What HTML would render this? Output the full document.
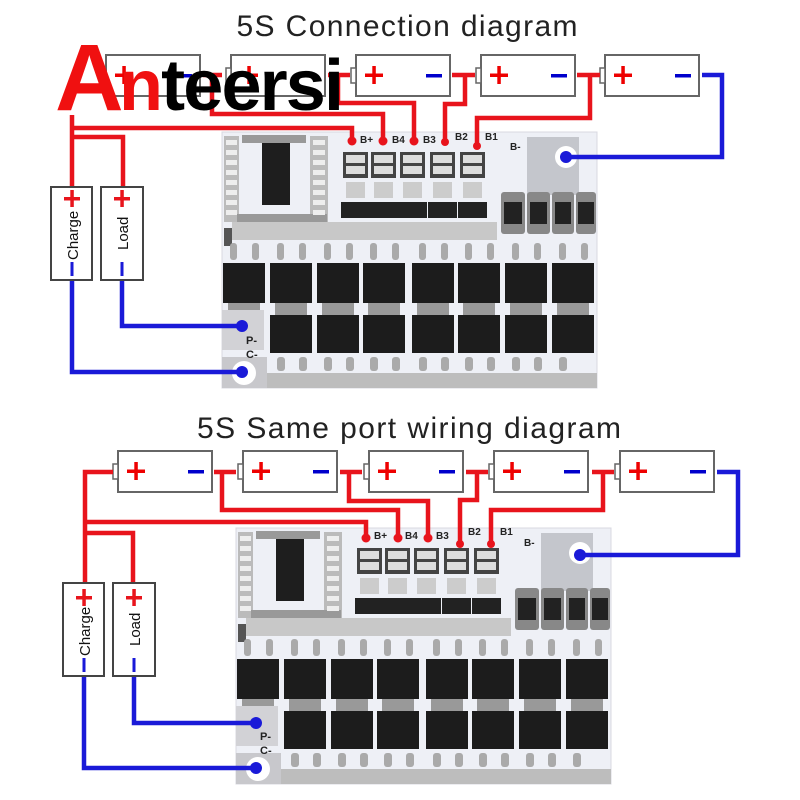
<!DOCTYPE html>
<html><head><meta charset="utf-8"><style>
html,body{margin:0;padding:0;background:#fff;width:800px;height:800px;overflow:hidden}
svg{display:block}
text{font-family:"Liberation Sans",sans-serif}
</style></head><body>
<svg width="800" height="800" viewBox="0 0 800 800" xmlns="http://www.w3.org/2000/svg">
<defs>
<g id="bat">
  <rect x="0" y="0" width="94" height="41" fill="#fff" stroke="#666" stroke-width="2"/>
  <rect x="-5" y="13" width="5" height="15" fill="#fff" stroke="#666" stroke-width="1.5"/>
  <rect x="9" y="18.5" width="18" height="3.5" fill="#e00"/>
  <rect x="16.3" y="11" width="3.5" height="18" fill="#e00"/>
  <rect x="70" y="19" width="16" height="3.5" fill="#00c"/>
</g>
<g id="board">
  <rect x="0" y="0" width="375" height="256" fill="#eef0f6"/>
  <rect x="0" y="0" width="375" height="256" fill="none" stroke="#d8d8e0" stroke-width="1"/>
  <!-- left comps -->
  <g fill="#777">
    <rect x="2" y="4" width="15" height="86" fill="#bbb"/>
    <rect x="88" y="4" width="18" height="86" fill="#bbb"/>
    <rect x="20" y="3" width="64" height="8" fill="#999"/>
    <rect x="15" y="82" width="90" height="9" fill="#999"/>
    <rect x="2" y="96" width="8" height="18" fill="#555"/>
  </g>
  <g fill="#eee">
    <rect x="4" y="8" width="11" height="5"/><rect x="4" y="18" width="11" height="5"/><rect x="4" y="28" width="11" height="5"/><rect x="4" y="38" width="11" height="5"/><rect x="4" y="48" width="11" height="5"/><rect x="4" y="58" width="11" height="5"/><rect x="4" y="68" width="11" height="5"/><rect x="4" y="78" width="11" height="5"/>
    <rect x="91" y="8" width="12" height="5"/><rect x="91" y="18" width="12" height="5"/><rect x="91" y="28" width="12" height="5"/><rect x="91" y="38" width="12" height="5"/><rect x="91" y="48" width="12" height="5"/><rect x="91" y="58" width="12" height="5"/><rect x="91" y="68" width="12" height="5"/><rect x="91" y="78" width="12" height="5"/>
  </g>
  <rect x="40" y="11" width="28" height="62" fill="#1e1e1e"/>
  <!-- balance channels -->
  <g>
    <rect x="121" y="20" width="25" height="26" fill="#444"/><rect x="124" y="23" width="19" height="8" fill="#ddd"/><rect x="124" y="34" width="19" height="8" fill="#ddd"/><rect x="119" y="70" width="29" height="16" fill="#222"/><rect x="124" y="50" width="19" height="16" fill="#ccc"/>
    <rect x="149" y="20" width="25" height="26" fill="#444"/><rect x="152" y="23" width="19" height="8" fill="#ddd"/><rect x="152" y="34" width="19" height="8" fill="#ddd"/><rect x="147" y="70" width="29" height="16" fill="#222"/><rect x="152" y="50" width="19" height="16" fill="#ccc"/>
    <rect x="178" y="20" width="25" height="26" fill="#444"/><rect x="181" y="23" width="19" height="8" fill="#ddd"/><rect x="181" y="34" width="19" height="8" fill="#ddd"/><rect x="176" y="70" width="29" height="16" fill="#222"/><rect x="181" y="50" width="19" height="16" fill="#ccc"/>
    <rect x="208" y="20" width="25" height="26" fill="#444"/><rect x="211" y="23" width="19" height="8" fill="#ddd"/><rect x="211" y="34" width="19" height="8" fill="#ddd"/><rect x="206" y="70" width="29" height="16" fill="#222"/><rect x="211" y="50" width="19" height="16" fill="#ccc"/>
    <rect x="238" y="20" width="25" height="26" fill="#444"/><rect x="241" y="23" width="19" height="8" fill="#ddd"/><rect x="241" y="34" width="19" height="8" fill="#ddd"/><rect x="236" y="70" width="29" height="16" fill="#222"/><rect x="241" y="50" width="19" height="16" fill="#ccc"/>
  </g>
  <!-- B- pad -->
  <rect x="305" y="5" width="52" height="58" fill="#c4c6cc"/>
  <circle cx="344" cy="25" r="11" fill="#fff"/>
  <!-- big resistors -->
  <g fill="#888">
    <rect x="279" y="60" width="24" height="42" rx="3"/><rect x="305" y="60" width="23" height="42" rx="3"/><rect x="330" y="60" width="22" height="42" rx="3"/><rect x="354" y="60" width="20" height="42" rx="3"/>
  </g>
  <g fill="#222">
    <rect x="282" y="70" width="18" height="22"/><rect x="308" y="70" width="17" height="22"/><rect x="333" y="70" width="16" height="22"/><rect x="356" y="70" width="16" height="22"/>
  </g>
  <!-- strip -->
  <rect x="10" y="90" width="265" height="18" fill="#c8c8c8"/>
  <!-- top mosfet row -->
  <g fill="#aaa">
    <rect x="8" y="111" width="7" height="17" rx="3"/><rect x="30" y="111" width="7" height="17" rx="3"/>
    <rect x="55" y="111" width="7" height="17" rx="3"/><rect x="77" y="111" width="7" height="17" rx="3"/>
    <rect x="102" y="111" width="7" height="17" rx="3"/><rect x="124" y="111" width="7" height="17" rx="3"/>
    <rect x="148" y="111" width="7" height="17" rx="3"/><rect x="170" y="111" width="7" height="17" rx="3"/>
    <rect x="197" y="111" width="7" height="17" rx="3"/><rect x="219" y="111" width="7" height="17" rx="3"/>
    <rect x="243" y="111" width="7" height="17" rx="3"/><rect x="265" y="111" width="7" height="17" rx="3"/>
    <rect x="290" y="111" width="7" height="17" rx="3"/><rect x="312" y="111" width="7" height="17" rx="3"/>
    <rect x="337" y="111" width="7" height="17" rx="3"/><rect x="359" y="111" width="7" height="17" rx="3"/>
  </g>
  <g fill="#1c1c1c">
    <rect x="1" y="131" width="42" height="40"/><rect x="48" y="131" width="42" height="40"/><rect x="95" y="131" width="42" height="40"/><rect x="141" y="131" width="42" height="40"/>
    <rect x="190" y="131" width="42" height="40"/><rect x="236" y="131" width="42" height="40"/><rect x="283" y="131" width="42" height="40"/><rect x="330" y="131" width="42" height="40"/>
  </g>
  <g fill="#999">
    <rect x="6" y="171" width="32" height="8"/><rect x="53" y="171" width="32" height="12"/><rect x="100" y="171" width="32" height="12"/><rect x="146" y="171" width="32" height="12"/>
    <rect x="195" y="171" width="32" height="12"/><rect x="241" y="171" width="32" height="12"/><rect x="288" y="171" width="32" height="12"/><rect x="335" y="171" width="32" height="12"/>
  </g>
  <rect x="0" y="178" width="42" height="40" fill="#d2d2d6"/>
  <g fill="#1c1c1c">
    <rect x="48" y="183" width="42" height="38"/><rect x="95" y="183" width="42" height="38"/><rect x="141" y="183" width="42" height="38"/>
    <rect x="190" y="183" width="42" height="38"/><rect x="236" y="183" width="42" height="38"/><rect x="283" y="183" width="42" height="38"/><rect x="330" y="183" width="42" height="38"/>
  </g>
  <g fill="#aaa">
    <rect x="55" y="225" width="8" height="14" rx="3"/><rect x="77" y="225" width="8" height="14" rx="3"/>
    <rect x="102" y="225" width="8" height="14" rx="3"/><rect x="124" y="225" width="8" height="14" rx="3"/>
    <rect x="148" y="225" width="8" height="14" rx="3"/><rect x="170" y="225" width="8" height="14" rx="3"/>
    <rect x="197" y="225" width="8" height="14" rx="3"/><rect x="219" y="225" width="8" height="14" rx="3"/>
    <rect x="243" y="225" width="8" height="14" rx="3"/><rect x="265" y="225" width="8" height="14" rx="3"/>
    <rect x="290" y="225" width="8" height="14" rx="3"/><rect x="312" y="225" width="8" height="14" rx="3"/>
    <rect x="337" y="225" width="8" height="14" rx="3"/>
  </g>
  <rect x="0" y="225" width="45" height="31" fill="#c8c8cc"/>
  <circle cx="22" cy="241" r="12" fill="#fff"/>
  <rect x="45" y="241" width="330" height="15" fill="#bdbdbd"/>
</g>
</defs>

<!-- ===== TOP ===== -->
<text x="407" y="36" font-size="30" fill="#222" text-anchor="middle" textLength="341">5S Connection diagram</text>
<use href="#bat" x="106" y="55"/>
<use href="#bat" x="231" y="55"/>
<use href="#bat" x="356" y="55"/>
<use href="#bat" x="481" y="55"/>
<use href="#bat" x="605" y="55"/>

<use href="#board" x="222" y="132"/>
<g font-size="10" fill="#222" font-weight="bold">
<text x="360" y="143">B+</text><text x="392" y="143">B4</text><text x="423" y="143">B3</text><text x="455" y="140">B2</text><text x="485" y="140">B1</text><text x="510" y="150">B-</text>
<text x="246" y="344" font-size="11">P-</text><text x="246" y="358" font-size="11">C-</text>
</g>

<g fill="none" stroke="#e8141c" stroke-width="4.5">
  <path d="M72 187 V115 M72 128 H352 V140 M72 137 H123 V187"/>
  <path d="M203 75 H222 M212 75 V114 H383 V140"/>
  <path d="M328 75 H350 M338 75 V103 H414 V140"/>
  <path d="M452 75 H475 M465 75 V104 H445 V140"/>
  <path d="M577 75 H600 M590 75 V118 H477 V146"/>
</g>
<g fill="#e8141c"><circle cx="352" cy="141" r="4.5"/><circle cx="383" cy="141" r="4.5"/><circle cx="414" cy="141" r="4.5"/><circle cx="445" cy="142" r="4"/><circle cx="477" cy="146" r="4"/></g>
<g fill="none" stroke="#1a1ad8" stroke-width="4.5">
  <path d="M702 75 H722 V157 H566"/>
  <path d="M72 280 V372 H242"/>
  <path d="M122 280 V326 H242"/>
</g>
<g fill="#1a1ad8"><circle cx="566" cy="157" r="6"/><circle cx="242" cy="372" r="6"/><circle cx="242" cy="326" r="6"/></g>

<rect x="51" y="187" width="41" height="93" fill="#fff" stroke="#444" stroke-width="2"/>
<rect x="101" y="187" width="42" height="93" fill="#fff" stroke="#444" stroke-width="2"/>
<g fill="#e8141c"><rect x="64" y="197" width="16" height="3.5"/><rect x="70.3" y="190" width="3.5" height="17"/><rect x="114" y="197" width="16" height="3.5"/><rect x="120.3" y="190" width="3.5" height="17"/></g>
<g fill="#1a1ad8"><rect x="70.5" y="262" width="3" height="14"/><rect x="120.5" y="262" width="3" height="14"/></g>
<text transform="translate(78,260) rotate(-90)" font-size="15" fill="#111">Charge</text>
<text transform="translate(128,250) rotate(-90)" font-size="15" fill="#111">Load</text>

<!-- watermark -->
<text x="55" y="110" font-size="95" font-weight="bold" fill="#f01010">A</text>
<text x="119" y="110" font-size="72" font-weight="bold" fill="#000" textLength="225"><tspan fill="#f01010">n</tspan>teersi</text>

<!-- ===== BOTTOM ===== -->
<text x="409" y="438" font-size="30" fill="#222" text-anchor="middle" textLength="424">5S Same port wiring diagram</text>
<use href="#bat" x="118" y="451"/>
<use href="#bat" x="243" y="451"/>
<use href="#bat" x="369" y="451"/>
<use href="#bat" x="494" y="451"/>
<use href="#bat" x="620" y="451"/>

<use href="#board" x="236" y="528"/>
<g font-size="10" fill="#222" font-weight="bold">
<text x="374" y="539">B+</text><text x="405" y="539">B4</text><text x="436" y="539">B3</text><text x="468" y="535">B2</text><text x="500" y="535">B1</text><text x="524" y="546">B-</text>
<text x="260" y="740" font-size="11">P-</text><text x="260" y="754" font-size="11">C-</text>
</g>

<g fill="none" stroke="#e8141c" stroke-width="4.5">
  <path d="M113 472 H85 V583 M85 522 H366 V537 M85 533 H133 V583"/>
  <path d="M214 472 H236 M222 472 V510 H398 V537"/>
  <path d="M340 472 H362 M349 472 V501 H428 V537"/>
  <path d="M466 472 H488 M477 472 V500 H460 V545"/>
  <path d="M592 472 H614 M603 472 V510 H491 V545"/>
</g>
<g fill="#e8141c"><circle cx="366" cy="538" r="4.5"/><circle cx="398" cy="538" r="4.5"/><circle cx="428" cy="538" r="4.5"/><circle cx="460" cy="544" r="4"/><circle cx="491" cy="544" r="4"/></g>
<g fill="none" stroke="#1a1ad8" stroke-width="4.5">
  <path d="M717 472 H738 V555 H580"/>
  <path d="M84 676 V768 H256"/>
  <path d="M134 676 V723 H256"/>
</g>
<g fill="#1a1ad8"><circle cx="580" cy="555" r="6"/><circle cx="256" cy="768" r="6"/><circle cx="256" cy="723" r="6"/></g>

<rect x="63" y="583" width="41" height="93" fill="#fff" stroke="#444" stroke-width="2"/>
<rect x="113" y="583" width="42" height="93" fill="#fff" stroke="#444" stroke-width="2"/>
<g fill="#e8141c"><rect x="76" y="596" width="16" height="3.5"/><rect x="82.3" y="589" width="3.5" height="17"/><rect x="126" y="596" width="16" height="3.5"/><rect x="132.3" y="589" width="3.5" height="17"/></g>
<g fill="#1a1ad8"><rect x="82.5" y="658" width="3" height="14"/><rect x="132.5" y="658" width="3" height="14"/></g>
<text transform="translate(90,656) rotate(-90)" font-size="15" fill="#111">Charge</text>
<text transform="translate(140,646) rotate(-90)" font-size="15" fill="#111">Load</text>
</svg>
</body></html>
